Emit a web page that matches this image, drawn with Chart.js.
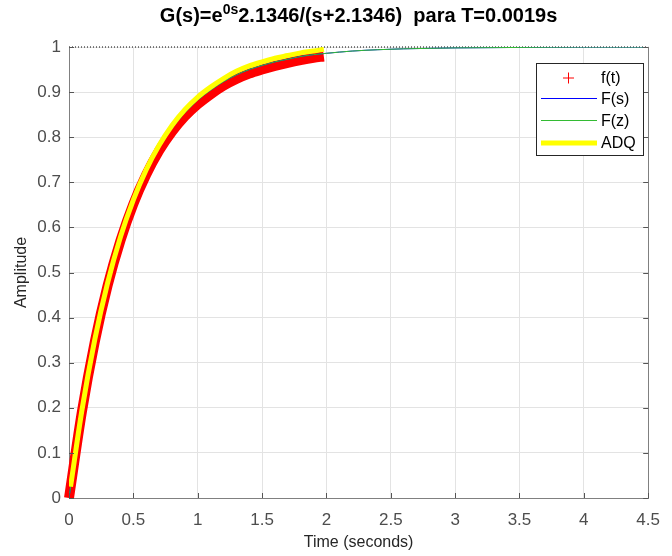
<!DOCTYPE html>
<html>
<head>
<meta charset="utf-8">
<script src="https://cdn.jsdelivr.net/npm/chart.js@4.4.1/dist/chart.umd.min.js"></script>
<style>
  html, body { margin: 0; padding: 0; background: #fff; }
  #wrap { width: 672px; height: 556px; }
</style>
</head>
<body>
<div id="wrap"><canvas id="step"></canvas></div>
<script>
// time axis values
const timeZ = [0, 0.1, 0.2, 0.3, 0.4, 0.5, 0.6, 0.7, 0.8, 0.9, 1.0, 1.1, 1.2, 1.3, 1.4, 1.5, 1.6, 1.7, 1.8, 1.9, 2.0, 2.2, 2.4, 2.6, 2.8, 3.0, 3.5, 4.0, 4.5];
// F(z) and F(s) (on top of each other)
const fzVals = [0, 0.192, 0.348, 0.473, 0.574, 0.656, 0.722, 0.776, 0.819, 0.854, 0.882, 0.904, 0.923, 0.938, 0.950, 0.959, 0.967, 0.973, 0.979, 0.983, 0.986, 0.991, 0.994, 0.996, 0.997, 0.998, 0.999, 1.0, 1.0];
const fsVals = [0, 0.192, 0.348, 0.473, 0.574, 0.656, 0.722, 0.776, 0.819, 0.854, 0.882, 0.904, 0.923, 0.938, 0.950, 0.959, 0.967, 0.973, 0.979, 0.983, 0.986, 0.991, 0.994, 0.996, 0.997, 0.998, 0.999, 1.0, 1.0];

// f(t) samples (red +), only up to ~2 s
const timeF = [0, 0.1, 0.2, 0.3, 0.4, 0.5, 0.6, 0.7, 0.8, 0.9, 1.0, 1.1, 1.2, 1.3, 1.4, 1.5, 1.6, 1.7, 1.8, 1.9, 1.98];
const ftVals = [0, 0.191, 0.346, 0.471, 0.571, 0.652, 0.717, 0.770, 0.812, 0.846, 0.873, 0.895, 0.914, 0.929, 0.941, 0.950, 0.958, 0.965, 0.971, 0.976, 0.979];

// ADQ (yellow)
const adqTime = [0.012, 0.1, 0.2, 0.3, 0.4, 0.5, 0.6, 0.7, 0.8, 0.9, 1.0, 1.1, 1.2, 1.3, 1.4, 1.5, 1.6, 1.7, 1.8, 1.9, 1.98];
const adqVals = [0.025, 0.194, 0.351, 0.477, 0.579, 0.661, 0.728, 0.782, 0.826, 0.861, 0.889, 0.911, 0.930, 0.946, 0.958, 0.967, 0.975, 0.981, 0.987, 0.991, 0.995];

// steady state line
const steadyTime = [0, 4.5];
const steadyVal = [1, 1];

const xTicks = [0, 0.5, 1, 1.5, 2, 2.5, 3, 3.5, 4, 4.5];
const yTicks = [0, 0.1, 0.2, 0.3, 0.4, 0.5, 0.6, 0.7, 0.8, 0.9, 1];

const FONT = '"Liberation Sans", Arial, Helvetica, sans-serif';

function pts(xs, ys) {
  return xs.map((x, i) => ({x: x, y: ys[i]}));
}

const extras = {
  id: 'extras',
  afterDraw(chart) {
    const ctx = chart.ctx;
    const a = chart.chartArea;
    const xs = chart.scales.x, ys = chart.scales.y;
    ctx.save();
    // right box line
    ctx.strokeStyle = '#808080';
    ctx.lineWidth = 1;
    ctx.beginPath();
    ctx.moveTo(Math.round(a.right) + 0.5, a.top);
    ctx.lineTo(Math.round(a.right) + 0.5, a.bottom);
    ctx.stroke();
    // inward tick marks
    ctx.strokeStyle = '#555';
    ctx.beginPath();
    xTicks.forEach(t => {
      const px = Math.round(xs.getPixelForValue(t)) + 0.5;
      ctx.moveTo(px, a.bottom); ctx.lineTo(px, a.bottom - 5);
    });
    yTicks.forEach(v => {
      const py = Math.round(ys.getPixelForValue(v)) + 0.5;
      ctx.moveTo(a.left, py); ctx.lineTo(a.left + 5, py);
      ctx.moveTo(a.right, py); ctx.lineTo(a.right - 5, py);
    });
    ctx.stroke();

    // title with superscript
    const parts = [
      {s: 'G(s)=e', f: 'bold 20px ' + FONT, dy: 0},
      {s: '0s', f: 'bold 14px ' + FONT, dy: -8},
      {s: '2.1346/(s+2.1346)  para T=0.0019s', f: 'bold 20px ' + FONT, dy: 0}
    ];
    let w = 0;
    parts.forEach(p => { ctx.font = p.f; p.w = ctx.measureText(p.s).width; w += p.w; });
    let x = (a.left + a.right) / 2 - w / 2;
    ctx.fillStyle = '#000';
    ctx.textBaseline = 'alphabetic';
    ctx.textAlign = 'left';
    parts.forEach(p => { ctx.font = p.f; ctx.fillText(p.s, x, 22 + p.dy); x += p.w; });

    // legend
    ctx.fillStyle = '#fff';
    ctx.fillRect(536.5, 63.5, 107, 92);
    ctx.strokeStyle = '#262626';
    ctx.lineWidth = 1;
    ctx.strokeRect(536.5, 63.5, 107, 92);
    const rows = [
      {label: 'f(t)', y: 78, kind: 'cross', color: '#ff0000', lw: 1},
      {label: 'F(s)', y: 98.5, kind: 'line', color: '#0000ff', lw: 1},
      {label: 'F(z)', y: 120.5, kind: 'line', color: '#33bb33', lw: 1},
      {label: 'ADQ', y: 143, kind: 'line', color: '#ffff00', lw: 5}
    ];
    ctx.font = '16px ' + FONT;
    ctx.textBaseline = 'middle';
    rows.forEach(r => {
      ctx.strokeStyle = r.color;
      ctx.lineWidth = r.lw;
      ctx.beginPath();
      if (r.kind === 'cross') {
        ctx.moveTo(563, r.y); ctx.lineTo(574, r.y);
        ctx.moveTo(568.5, r.y - 5.5); ctx.lineTo(568.5, r.y + 5.5);
      } else {
        ctx.moveTo(541, r.y); ctx.lineTo(597, r.y);
      }
      ctx.stroke();
      ctx.fillStyle = '#000';
      ctx.fillText(r.label, 601, r.y + 1);
    });
    ctx.restore();
  }
};

new Chart(document.getElementById('step'), {
  type: 'line',
  data: {
    datasets: [
      {
        label: 'ADQ',
        data: pts(adqTime, adqVals),
        borderColor: '#ffff00',
        borderWidth: 5,
        pointRadius: 0,
        cubicInterpolationMode: 'monotone',
        order: 0
      },
      {
        label: 'F(z)',
        data: pts(timeZ, fzVals),
        borderColor: '#33bb33',
        borderWidth: 1,
        pointRadius: 0,
        cubicInterpolationMode: 'monotone',
        order: 1
      },
      {
        label: 'F(s)',
        data: pts(timeZ, fsVals),
        borderColor: '#0000ff',
        borderWidth: 1,
        pointRadius: 0,
        cubicInterpolationMode: 'monotone',
        order: 2
      },
      {
        label: 'f(t)',
        data: pts(timeF, ftVals),
        borderColor: '#ff0000',
        borderWidth: 10,
        pointRadius: 0,
        cubicInterpolationMode: 'monotone',
        clip: 8,
        order: 3
      },
      {
        label: 'steady',
        data: pts(steadyTime, steadyVal),
        borderColor: '#000',
        borderWidth: 1,
        borderDash: [1, 2],
        pointRadius: 0,
        clip: 2,
        order: 4
      }
    ]
  },
  options: {
    responsive: true,
    maintainAspectRatio: false,
    animation: false,
    events: [],
    layout: { padding: { left: 0, right: 14, top: 47, bottom: 0 } },
    plugins: {
      legend: { display: false },
      title: { display: false },
      tooltip: { enabled: false }
    },
    scales: {
      x: {
        type: 'linear',
        min: 0,
        max: 4.5,
        afterBuildTicks: s => { s.ticks = xTicks.map(v => ({value: v})); },
        afterFit: s => { s.height = 58; },
        grid: { color: '#e3e3e3', drawTicks: false },
        border: { color: '#808080' },
        ticks: { font: { family: FONT, size: 17 }, color: '#4d4d4d', padding: 12, callback: v => String(v) },
        title: { display: true, text: 'Time (seconds)', font: { family: FONT, size: 16 }, color: '#262626', padding: { top: 0, bottom: 4 } }
      },
      y: {
        min: 0,
        max: 1,
        afterBuildTicks: s => { s.ticks = yTicks.map(v => ({value: v})); },
        afterFit: s => { s.width = 69; },
        grid: { color: '#e3e3e3', drawTicks: false },
        border: { color: '#808080' },
        ticks: { font: { family: FONT, size: 17 }, color: '#4d4d4d', padding: 8, callback: v => String(v) },
        title: { display: true, text: 'Amplitude', font: { family: FONT, size: 16 }, color: '#262626', padding: { top: 12, bottom: 0 } }
      }
    }
  },
  plugins: [extras]
});
</script>
</body>
</html>
